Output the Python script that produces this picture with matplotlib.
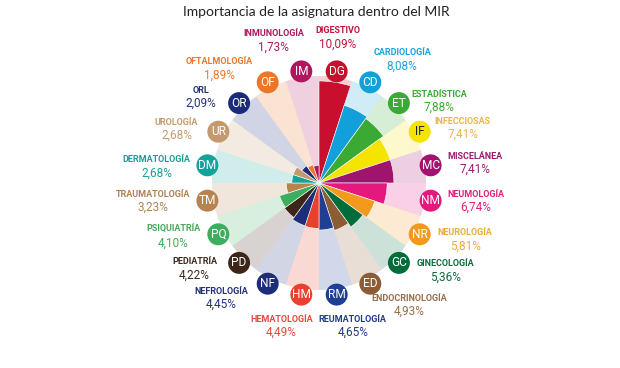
import numpy as np
import matplotlib
matplotlib.use("Agg")
import matplotlib.pyplot as plt
from matplotlib.offsetbox import TextArea, VPacker, AnnotationBbox

# ---------------- data ----------------
names = ["DIGESTIVO", "CARDIOLOGÍA", "ESTADÍSTICA", "INFECCIOSAS", "MISCELÁNEA",
         "NEUMOLOGÍA", "NEUROLOGÍA", "GINECOLOGÍA", "ENDOCRINOLOGÍA", "REUMATOLOGÍA",
         "HEMATOLOGÍA", "NEFROLOGÍA", "PEDIATRÍA", "PSIQUIATRÍA", "TRAUMATOLOGÍA",
         "DERMATOLOGÍA", "UROLOGÍA", "ORL", "OFTALMOLOGÍA", "INMUNOLOGÍA"]
abbrevs = ["DG", "CD", "ET", "IF", "MC", "NM", "NR", "GC", "ED", "RM",
           "HM", "NF", "PD", "PQ", "TM", "DM", "UR", "OR", "OF", "IM"]
values = [10.09, 8.08, 7.88, 7.41, 7.41, 6.74, 5.81, 5.36, 4.93, 4.65,
          4.49, 4.45, 4.22, 4.10, 3.23, 2.68, 2.68, 2.09, 1.89, 1.73]
title = "Importancia de la asignatura dentro del MIR"

# ---------------- style ----------------
colors = ["#C8102E", "#12A0DB", "#3BAA34", "#F5E400", "#A0146F",
          "#E5187E", "#F39A1E", "#006C3A", "#8C5C34", "#1F3F92",
          "#E8412E", "#1E2D78", "#3D2618", "#3DAE5E", "#B7834F",
          "#15A29B", "#C49A6C", "#1B2B79", "#EE7628", "#B0155F"]
text_colors = ["#C0143C", "#1BA1DC", "#3BAA34", "#E9B44C", "#9B1B6E",
               "#E0207F", "#EBAA3A", "#0E6B3B", "#9A6D45", "#223B8C",
               "#E54A3D", "#23307A", "#3B2A1E", "#46A857", "#B08253",
               "#1A9E98", "#C49A6C", "#243079", "#E8782D", "#AA1A5E"]
badge_text_colors = ["white"] * 20
badge_text_colors[3] = "#222222"

# label layout: (alignment, dx px, dy px) relative to badge centre
layout = [("center", 1, 33), ("left", 3, 22), ("left", 12, 1), ("left", 15, 2.5),
          ("left", 17, 1.5), ("left", 17, -1.5), ("left", 18, -6), ("left", 18, -8.5),
          ("center", 39, -22), ("center", 16, -32.5), ("center", -20, -32.5),
          ("right", -20, -15), ("right", -22, -6.5), ("right", -18, -3),
          ("right", -17, -1.5), ("right", -17, -2), ("right", -20, 1.5),
          ("right", -23, 5), ("right", -15, 13), ("center", -28, 30)]

W, H, DPI = 620, 368, 100
cx, cy = 319, 183          # centre in pixels
px_per_unit = 102 / 10.09
rmax = 16
R_bg = 107 / px_per_unit
R_badge = 113 / px_per_unit

fig = plt.figure(figsize=(W / DPI, H / DPI), dpi=DPI)
size_px = 2 * rmax * px_per_unit
ax = fig.add_axes([cx / W - size_px / 2 / W, 1 - cy / H - size_px / 2 / H,
                   size_px / W, size_px / H], projection="polar")
ax.set_theta_zero_location("N")
ax.set_theta_direction(-1)
ax.set_ylim(0, rmax)
ax.set_axis_off()

n = len(values)
width = 2 * np.pi / n
theta = np.arange(n) * width + width / 2

# pale background wedges
for t, c in zip(theta, colors):
    ax.bar(t, R_bg, width=width, bottom=0, color=c, alpha=0.2, linewidth=0)
# value bars
ax.bar(theta, values, width=width, bottom=0, color=colors,
       edgecolor="white", linewidth=0.4)

# badges
ax.scatter(theta, [R_badge] * n, s=250, c=colors, zorder=5, linewidths=0,
           clip_on=False)
for t, ab, tc in zip(theta, abbrevs, badge_text_colors):
    ax.text(t, R_badge, ab, ha="center", va="center", color=tc, fontsize=8.6,
            family="Roboto", zorder=6)

# labels
align_map = {"left": (0, 0.5), "right": (1, 0.5), "center": (0.5, 0.5)}
for i in range(n):
    al, dx, dy = layout[i]
    pct = f"{values[i]:.2f}".replace(".", ",") + "%"
    t1 = TextArea(names[i], textprops=dict(color=text_colors[i], fontsize=6.5,
                                           fontweight="bold", family="Roboto"))
    t2 = TextArea(pct, textprops=dict(color=text_colors[i], fontsize=8.5,
                                      family="Roboto"))
    box = VPacker(children=[t1, t2], align="center", pad=0, sep=1.5)
    ab = AnnotationBbox(box, (theta[i], R_badge), xybox=(dx, dy),
                        xycoords="data", boxcoords="offset pixels",
                        box_alignment=align_map[al], frameon=False, pad=0)
    ax.add_artist(ab)

fig.text(316 / W, 1 - 12 / H, title, ha="center", va="center",
         fontsize=10, family="Lato", color="#222222")

fig.savefig("out.png", dpi=DPI, facecolor="white")
